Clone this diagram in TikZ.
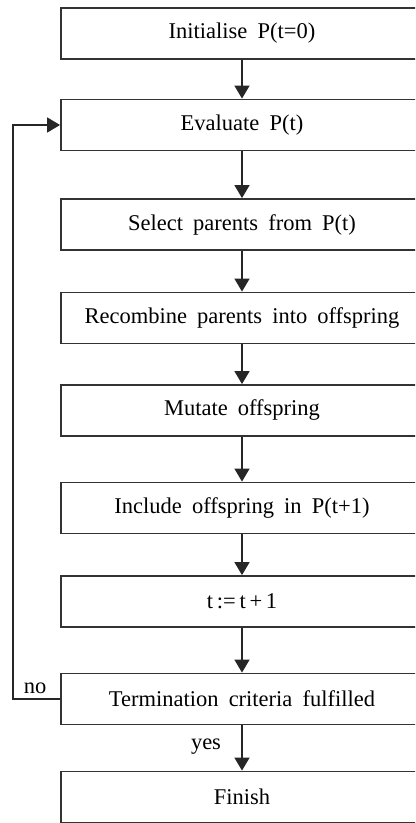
\documentclass[tikz,border=0pt]{standalone}
\usepackage{fontspec}
\setmainfont{Liberation Serif}[WordSpace=1.8]
\usetikzlibrary{arrows.meta}
\begin{document}
\begin{tikzpicture}[x=1bp,y=-1bp,
  stepbox/.style={draw=black!80,line width=1.8bp,minimum width=362bp,minimum height=51bp,
    inner sep=0pt,font=\fontsize{22.5bp}{26bp}\selectfont,fill=white},
  flow/.style={draw=black!85,line width=1.5bp,-{Triangle[width=15bp,length=13bp]}},
  lbl/.style={font=\fontsize{22.5bp}{26bp}\selectfont,inner sep=0pt}]
\useasboundingbox (0,0) rectangle (415,823);
\clip (0,0) rectangle (415,823);
% the process steps
\node[stepbox] (init) at (242,33.5) {Initialise P(t=0)};
\node[stepbox] (eval) at (242,125) {Evaluate P(t)};
\node[stepbox] (sel)  at (242,224.5) {Select parents from P(t)};
\node[stepbox] (rec)  at (242,318) {Recombine parents into offspring};
\node[stepbox] (mut)  at (242,410.5) {Mutate offspring};
\node[stepbox] (inc)  at (242,508) {Include offspring in P(t+1)};
\node[stepbox] (inct) at (242,601.5) {t\,:=\,t\,+\,1};
\node[stepbox] (term) at (242,699) {Termination criteria fulfilled};
\node[stepbox] (fin)  at (242,797) {Finish};
% downward flow
\draw[flow] (init) -- (eval);
\draw[flow] (eval) -- (sel);
\draw[flow] (sel) -- (rec);
\draw[flow] (rec) -- (mut);
\draw[flow] (mut) -- (inc);
\draw[flow] (inc) -- (inct);
\draw[flow] (inct) -- (term);
\draw[flow] (term) -- (fin);
% loop back when not finished
\coordinate (lb) at (13,699);
\coordinate (lt) at (13,125);
\draw[flow] (term.west) -- (lb) -- (lt) -- (eval.west);
\node[lbl] (no) at (35,688) {no};
\node[lbl] (yes) at (206,747) {yes};
\end{tikzpicture}
\end{document}
